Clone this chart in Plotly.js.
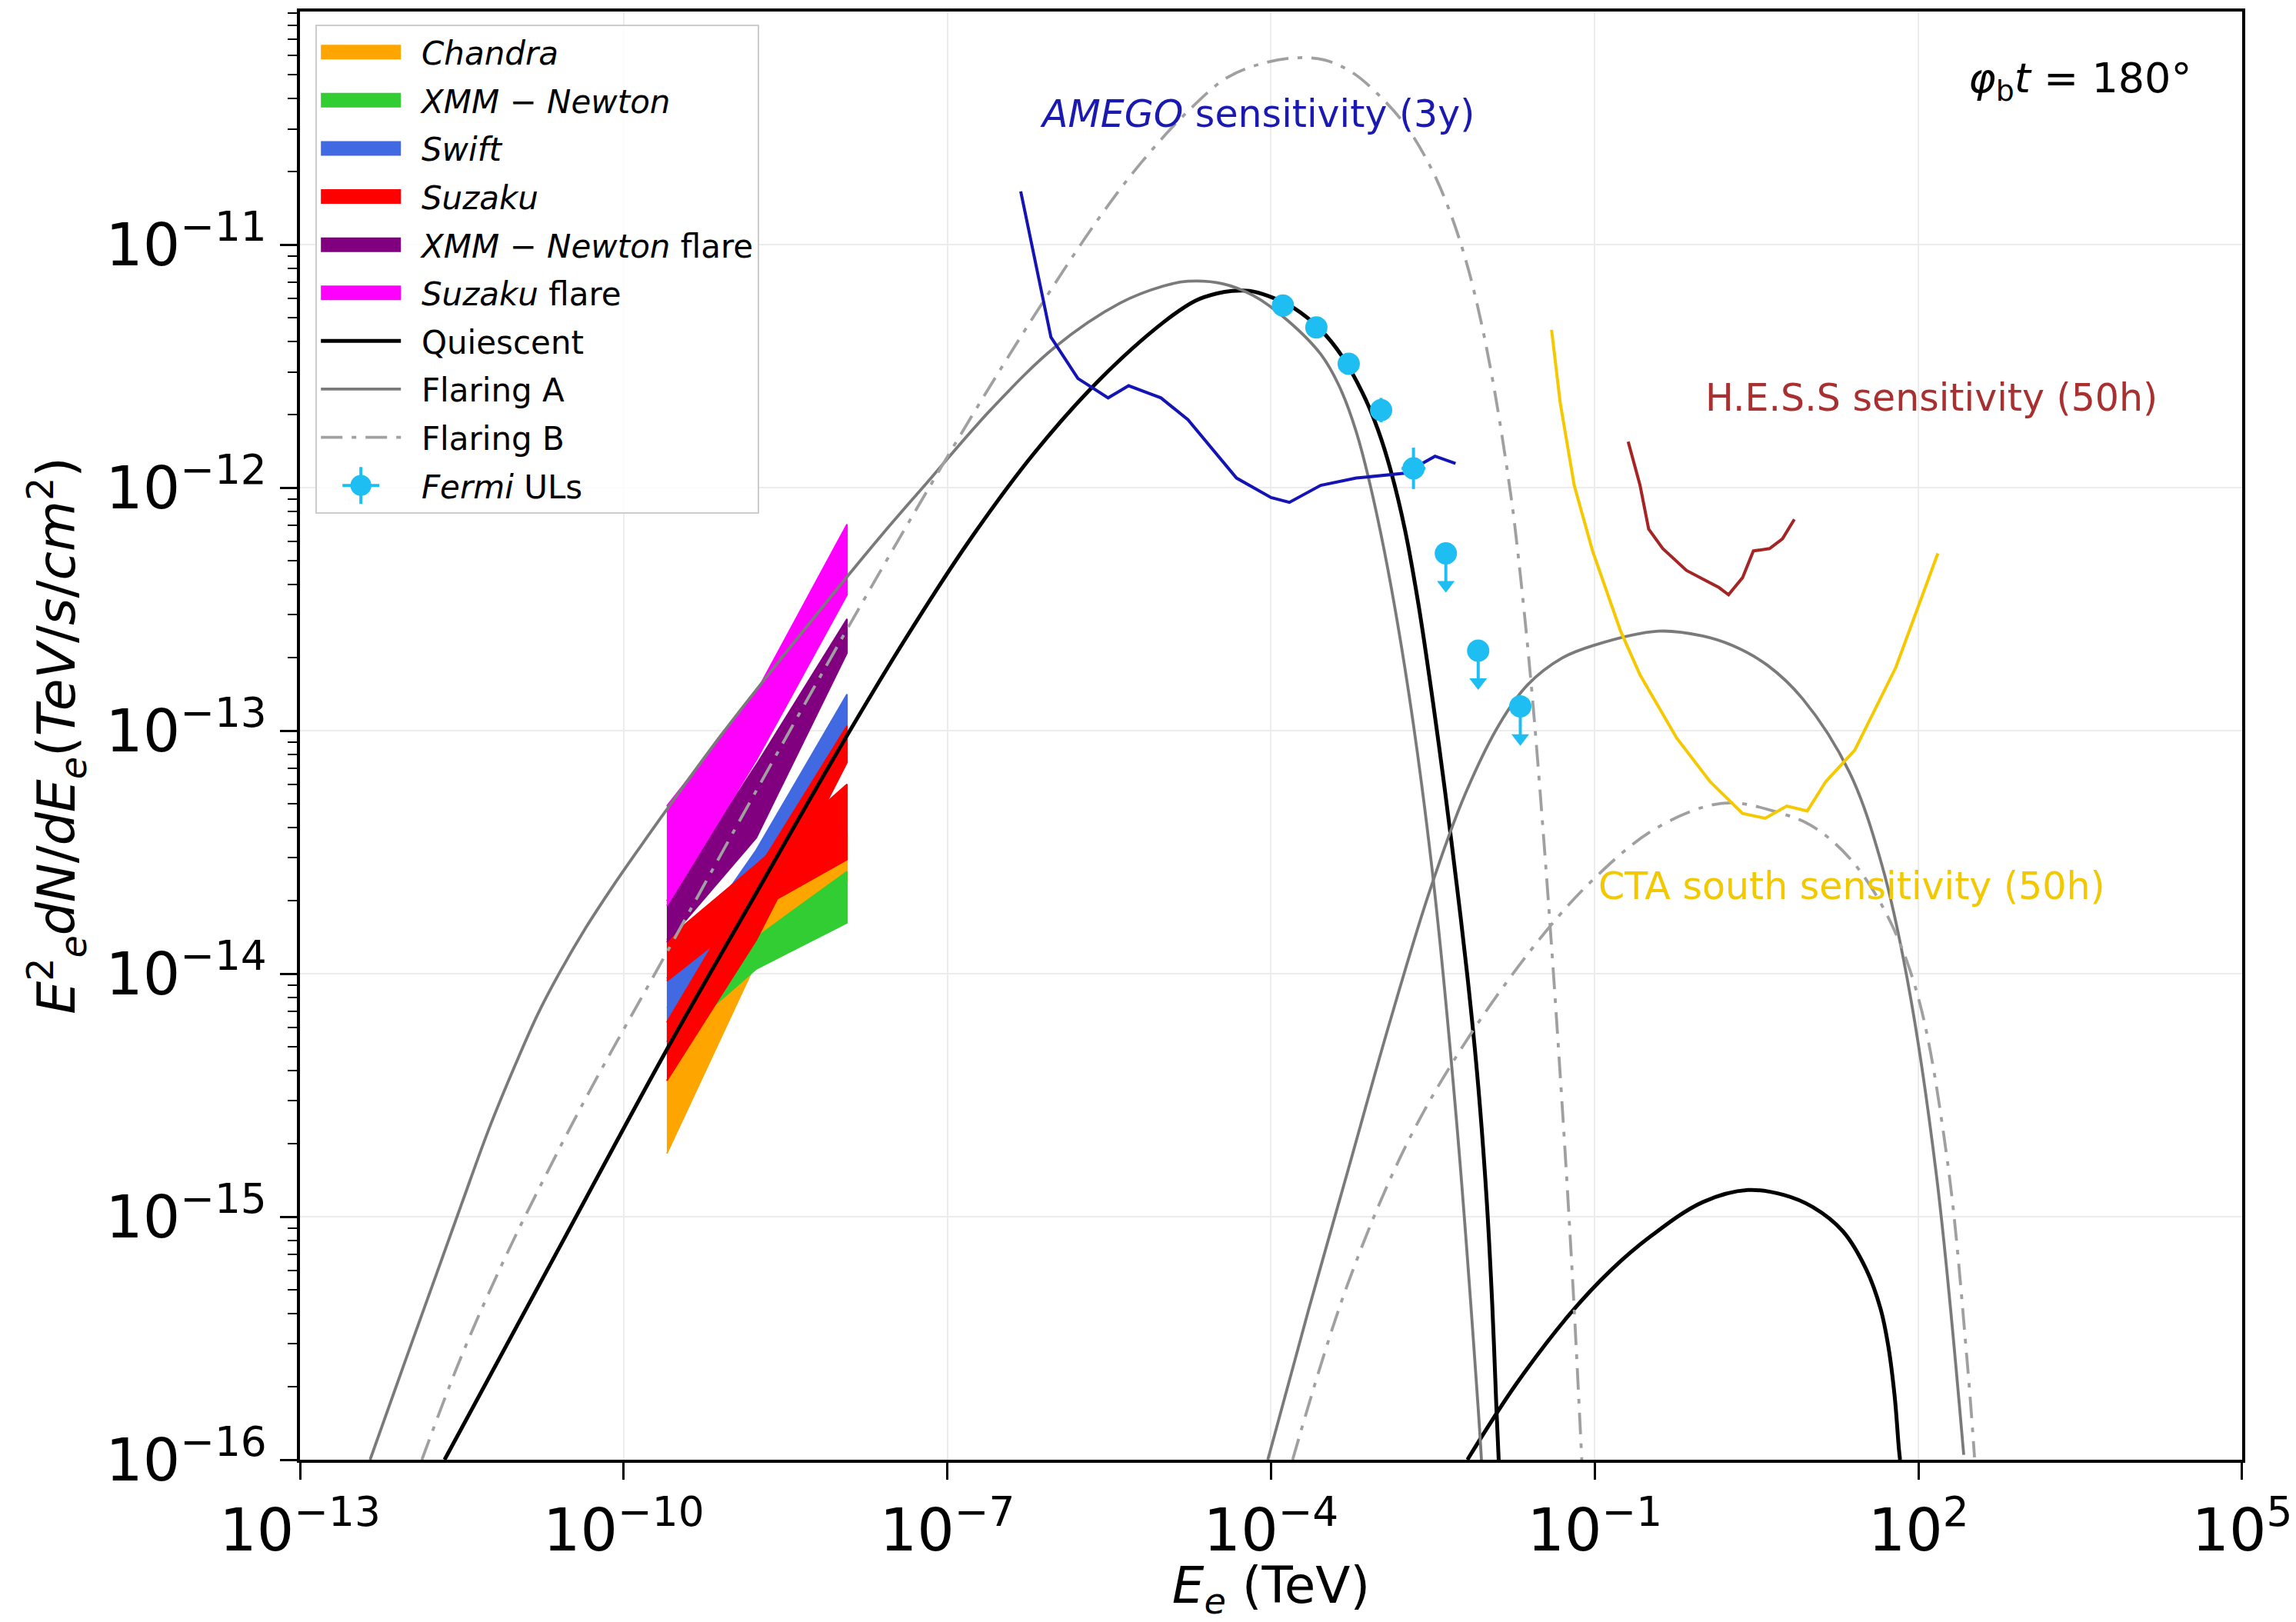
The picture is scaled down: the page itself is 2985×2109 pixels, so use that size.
<!DOCTYPE html>
<html>
<head>
<meta charset="utf-8">
<script src="https://cdn.plot.ly/plotly-3.0.1.min.js"></script>
<style>html,body{margin:0;padding:0;background:#fff;}#chart{width:2985px;height:2109px;}</style>
</head>
<body>
<div id="chart"></div>
<script>
// ---- data (log10 of E in TeV, log10 of E^2 dN/dE in TeV/s/cm^2) ----
const quiescentLowLogE  = [-11.66, -10.6, -9.61, -8.8, -8.01, -7.4, -6.8, -6.2, -5.6, -5.0, -4.7, -4.5, -4.36, -4.2, -4.03, -3.79, -3.54, -3.34, -3.13, -3.01, -2.89, -2.76, -2.63, -2.5, -2.39, -2.28, -2.18, -2.08, -2.0, -1.95, -1.91, -1.89];
const quiescentLowLogF  = [-16.0, -15.13, -14.32, -13.69, -13.08, -12.63, -12.22, -11.86, -11.56, -11.32, -11.23, -11.20, -11.19, -11.19, -11.21, -11.26, -11.35, -11.46, -11.63, -11.76, -11.93, -12.17, -12.49, -12.88, -13.24, -13.63, -14.01, -14.46, -14.94, -15.36, -15.80, -16.0];
const quiescentHighLogE = [-2.18, -1.73, -1.23, -0.85, -0.48, 0.0, 0.42, 0.75, 1.02, 1.3, 1.52, 1.65, 1.72, 1.78, 1.82, 1.83];
const quiescentHighLogF = [-16.0, -15.69, -15.40, -15.22, -15.08, -14.94, -14.89, -14.91, -14.96, -15.06, -15.22, -15.38, -15.53, -15.74, -15.96, -16.0];

const flaringALowLogE  = [-12.35, -12.05, -11.73, -11.5, -11.25, -11.0, -10.8, -10.6, -10.35, -10.1, -9.85, -9.61, -9.1, -8.5, -8.01, -7.6, -7.23, -6.6, -6.0, -5.4, -5.0, -4.77, -4.45, -4.16, -3.85, -3.54, -3.37, -3.21, -3.01, -2.76, -2.51, -2.28, -2.08, -2.05];
const flaringALowLogF  = [-16.0, -15.625, -15.23, -14.945, -14.64, -14.37, -14.17, -14.0, -13.81, -13.64, -13.48, -13.33, -13.02, -12.68, -12.41, -12.19, -12.0, -11.68, -11.42, -11.24, -11.17, -11.15, -11.16, -11.21, -11.31, -11.45, -11.58, -11.77, -12.13, -12.74, -13.56, -14.61, -15.79, -16.0];
const flaringAHighLogE = [-4.03, -3.65, -3.3, -2.9, -2.53, -2.2, -1.88, -1.62, -1.3, -1.02, -0.41, 0.0, 0.28, 0.6, 0.93, 1.36, 1.66, 1.9, 2.17, 2.42];
const flaringAHighLogF = [-16.0, -15.38, -14.83, -14.20, -13.66, -13.26, -12.97, -12.81, -12.70, -12.65, -12.59, -12.61, -12.65, -12.73, -12.87, -13.17, -13.55, -14.03, -14.84, -15.98];

const flaringBLowLogE  = [-11.87, -11.5, -11.09, -10.7, -10.3, -9.61, -8.8, -8.01, -7.23, -6.61, -6.1, -5.59, -5.2, -4.77, -4.4, -4.05, -3.75, -3.5, -3.25, -3.01, -2.75, -2.52, -2.35, -2.19, -2.05, -1.92, -1.8, -1.74, -1.6, -1.45, -1.3, -1.2, -1.12];
const flaringBLowLogF  = [-16.0, -15.57, -15.16, -14.81, -14.47, -13.92, -13.27, -12.645, -12.045, -11.586, -11.226, -10.887, -10.66, -10.45, -10.31, -10.25, -10.23, -10.24, -10.29, -10.38, -10.51, -10.681, -10.855, -11.071, -11.323, -11.622, -11.961, -12.159, -12.754, -13.579, -14.554, -15.3, -16.0];
const flaringBHighLogE = [-3.8, -3.3, -2.73, -2.13, -1.45, -1.0, -0.5, 0.0, 0.3, 0.72, 1.0, 1.36, 1.71, 2.0, 2.27, 2.45, 2.52];
const flaringBHighLogF = [-16.0, -15.29, -14.69, -14.235, -13.824, -13.606, -13.42, -13.315, -13.297, -13.339, -13.388, -13.523, -13.759, -14.10, -14.775, -15.585, -15.99];

const amegoLogE = [-6.32, -6.04, -5.79, -5.51, -5.32, -5.02, -4.77, -4.32, -4.00, -3.83, -3.54, -3.21, -2.76, -2.48, -2.29];
const amegoLogF = [-10.78, -11.38, -11.55, -11.63, -11.58, -11.63, -11.72, -11.96, -12.04, -12.06, -11.99, -11.96, -11.94, -11.87, -11.90];

const hessLogE = [-0.69, -0.58, -0.50, -0.37, -0.15, 0.02, 0.15, 0.24, 0.37, 0.47, 0.62, 0.74, 0.85];
const hessLogF = [-11.81, -11.99, -12.17, -12.25, -12.34, -12.38, -12.41, -12.44, -12.37, -12.26, -12.25, -12.21, -12.13];

const ctaLogE = [-1.40, -1.32, -1.19, -1.02, -0.76, -0.58, -0.24, 0.07, 0.37, 0.58, 0.78, 0.97, 1.14, 1.41, 1.79, 2.18];
const ctaLogF = [-11.35, -11.65, -11.99, -12.26, -12.59, -12.77, -13.03, -13.21, -13.34, -13.36, -13.31, -13.33, -13.21, -13.08, -12.74, -12.27];

const fermiLogE    = [-3.89, -3.58, -3.28, -2.98, -2.68, -2.38, -2.08, -1.69];
const fermiLogF    = [-11.25, -11.34, -11.49, -11.68, -11.92, -12.27, -12.67, -12.90];
const fermiErrLogF = [0, 0, 0, 0.05, 0.085, 0, 0, 0];
const fermiErrLogE = [0, 0, 0, 0.05, 0.11, 0, 0, 0];
const fermiIsUL    = [0, 0, 0, 0, 0, 1, 1, 1];

// X-ray bowties: upper / lower bounds at three energies
const xrayLogE = [-9.6, -8.77, -7.93];
const chandraUp = [-14.44, -13.68, -13.42],  chandraLo = [-14.74, -13.95, -13.62];
const xmmUp     = [-14.14, -13.85, -13.58],  xmmLo     = [-14.30, -13.98, -13.79];
const swiftUp   = [-14.02, -13.49, -12.85],  swiftLo   = [-14.28, -13.80, -13.02];
const suzakuAUp = [-14.20, -13.58, -12.98],  suzakuALo = [-14.44, -13.86, -13.13];
const suzakuBUp = [-13.86, -13.55, -13.22],  suzakuBLo = [-14.03, -13.74, -13.53];
const xmmFlareUp = [-13.70, -13.14, -12.54], xmmFlareLo = [-13.87, -13.44, -12.68];
const suzakuFlareUp = [-13.31, -12.84, -12.15], suzakuFlareLo = [-13.72, -13.12, -12.44];

// ---- helpers ----
const pow10 = a => a.map(v => (v === null ? null : Math.pow(10, v)));
const joinGap = (a, b) => a.concat([null], b);
const NB = '\u00a0\u2009';

const traces = [];
const xray = [
  {name: '<i>Chandra</i>', color: '#ffa500', group: 'g1', bands: [[chandraUp, chandraLo]]},
  {name: '<i>XMM − Newton</i>', color: '#32cd32', group: 'g2', bands: [[xmmUp, xmmLo]]},
  {name: '<i>Swift</i>', color: '#4169e1', group: 'g3', bands: [[swiftUp, swiftLo]]},
  {name: '<i>Suzaku</i>', color: '#ff0000', group: 'g4', bands: [[suzakuAUp, suzakuALo], [suzakuBUp, suzakuBLo]]},
  {name: '<i>XMM − Newton</i> flare', color: '#800080', group: 'g5', bands: [[xmmFlareUp, xmmFlareLo]]},
  {name: '<i>Suzaku</i> flare', color: '#ff00ff', group: 'g6', bands: [[suzakuFlareUp, suzakuFlareLo]]}
];
xray.forEach(s => traces.push({
  type: 'scatter', mode: 'lines', x: [null], y: [null], name: NB + s.name,
  legendgroup: s.group, line: {color: s.color, width: 10}, hoverinfo: 'skip'
}));
xray.forEach(s => s.bands.forEach(([up, lo]) => traces.push({
  type: 'scatter', mode: 'lines',
  x: pow10(xrayLogE.concat(xrayLogE.slice().reverse())),
  y: pow10(up.concat(lo.slice().reverse())),
  fill: 'toself', fillcolor: s.color, line: {color: s.color, width: 2},
  legendgroup: s.group, showlegend: false, hoverinfo: 'skip'
})));

const curveLine = (color, width, dash) => ({color, width, dash: dash || 'solid', shape: 'spline', smoothing: 1, simplify: false});
traces.push({
  type: 'scatter', mode: 'lines', name: NB + 'Quiescent', legendgroup: 'g7',
  x: pow10(joinGap(quiescentLowLogE, quiescentHighLogE)),
  y: pow10(joinGap(quiescentLowLogF, quiescentHighLogF)),
  line: curveLine('#000000', 5), connectgaps: false
});
traces.push({
  type: 'scatter', mode: 'lines', name: NB + 'Flaring A', legendgroup: 'g8',
  x: pow10(joinGap(flaringALowLogE, flaringAHighLogE)),
  y: pow10(joinGap(flaringALowLogF, flaringAHighLogF)),
  line: curveLine('#7a7a7a', 3.8), connectgaps: false
});
traces.push({
  type: 'scatter', mode: 'lines', name: NB + 'Flaring B', legendgroup: 'g9',
  x: pow10(joinGap(flaringBLowLogE, flaringBHighLogE)),
  y: pow10(joinGap(flaringBLowLogF, flaringBHighLogF)),
  line: curveLine('#a0a0a0', 3.8, '28px,12px,6px,12px'), connectgaps: false
});

traces.push({
  type: 'scatter', mode: 'lines', x: pow10(amegoLogE), y: pow10(amegoLogF),
  line: {color: '#1414b4', width: 4, simplify: false}, showlegend: false, legendgroup: 'g11', hoverinfo: 'skip'
});
traces.push({
  type: 'scatter', mode: 'lines', x: pow10(hessLogE), y: pow10(hessLogF),
  line: {color: '#a52424', width: 4, simplify: false}, showlegend: false, legendgroup: 'g12', hoverinfo: 'skip'
});
traces.push({
  type: 'scatter', mode: 'lines', x: pow10(ctaLogE), y: pow10(ctaLogF),
  line: {color: '#f5c800', width: 4, simplify: false}, showlegend: false, legendgroup: 'g13', hoverinfo: 'skip'
});

// Fermi points with error bars / upper-limit arrows
const ulLen = 0.15;
const fermiX = pow10(fermiLogE), fermiY = pow10(fermiLogF);
const errUp = fermiY.map((y, i) => fermiIsUL[i] ? 0 : y * (Math.pow(10, fermiErrLogF[i]) - 1));
const errDn = fermiY.map((y, i) => fermiIsUL[i] ? y * (1 - Math.pow(10, -ulLen)) : y * (1 - Math.pow(10, -fermiErrLogF[i])));
const errXp = fermiX.map((x, i) => x * (Math.pow(10, fermiErrLogE[i]) - 1));
const errXm = fermiX.map((x, i) => x * (1 - Math.pow(10, -fermiErrLogE[i])));
const fermiColor = '#1ebef2';
traces.push({
  type: 'scatter', mode: 'markers', name: NB + '<i>Fermi</i> ULs', legendgroup: 'g10',
  x: fermiX, y: fermiY,
  marker: {symbol: 'circle', size: 29, color: fermiColor},
  error_y: {type: 'data', symmetric: false, array: errUp, arrayminus: errDn, color: fermiColor, thickness: 4, width: 0},
  error_x: {type: 'data', symmetric: false, array: errXp, arrayminus: errXm, color: fermiColor, thickness: 4, width: 0}
});
const ulIdx = fermiIsUL.map((u, i) => u ? i : -1).filter(i => i >= 0);
traces.push({
  type: 'scatter', mode: 'markers', showlegend: false, legendgroup: 'g10',
  x: ulIdx.map(i => fermiX[i]),
  y: ulIdx.map(i => fermiY[i] * Math.pow(10, -ulLen + 0.02)),
  marker: {symbol: 'triangle-down', size: 20, color: fermiColor}, hoverinfo: 'skip'
});

const layout = {
  width: 2985, height: 2109,
  margin: {l: 390, r: 70, t: 15, b: 211, pad: 0},
  paper_bgcolor: '#ffffff', plot_bgcolor: '#ffffff',
  font: {family: 'DejaVu Sans', color: '#000000'},
  showlegend: true,
  legend: {
    x: 0.008, y: 0.991, xanchor: 'left', yanchor: 'top',
    bgcolor: 'rgba(255,255,255,0.85)', bordercolor: '#cccccc', borderwidth: 2,
    font: {size: 42, family: 'DejaVu Sans'}, itemwidth: 104, tracegroupgap: 5, traceorder: 'grouped'
  },
  xaxis: {
    type: 'log', range: [-13, 5.0005], dtick: 3, tick0: -13, exponentformat: 'power', showexponent: 'all',
    ticks: 'outside', ticklen: 22, tickwidth: 3, tickcolor: '#000', ticklabelstandoff: 4,
    showline: true, mirror: true, linecolor: '#000', linewidth: 4,
    showgrid: true, gridcolor: '#ececec', gridwidth: 2, zeroline: false,
    tickfont: {size: 61}, automargin: false,
    title: {text: '<i>E</i><sub><i>e</i></sub> (TeV)', font: {size: 66}, standoff: 26}
  },
  yaxis: {
    type: 'log', range: [-16, -10.04], dtick: 1, exponentformat: 'power', showexponent: 'all',
    ticks: 'outside', ticklen: 22, tickwidth: 3, tickcolor: '#000', ticklabelstandoff: 5,
    minor: {ticks: 'outside', ticklen: 12, tickwidth: 2, tickcolor: '#000', dtick: 'D1', showgrid: false},
    showline: true, mirror: true, linecolor: '#000', linewidth: 4,
    showgrid: true, gridcolor: '#ececec', gridwidth: 2, zeroline: false,
    tickfont: {size: 61}, automargin: false,
    title: {text: '<i>E</i><sup>2</sup><sub><i>e</i></sub><i>dN</i>/<i>dE</i><sub><i>e</i></sub>(<i>TeV</i>/<i>s</i>/<i>cm</i><sup>2</sup>)', font: {size: 68}, standoff: 18}
  },
  annotations: [
    {xref: 'paper', yref: 'paper', x: 0.493, y: 0.929, xanchor: 'center', yanchor: 'middle', text: '<i>AMEGO</i> sensitivity (3y)', showarrow: false, font: {size: 49, color: '#1a1ab0'}},
    {xref: 'paper', yref: 'paper', x: 0.840, y: 0.733, xanchor: 'center', yanchor: 'middle', text: 'H.E.S.S sensitivity (50h)', showarrow: false, font: {size: 49, color: '#a83030'}},
    {xref: 'paper', yref: 'paper', x: 0.799, y: 0.396, xanchor: 'center', yanchor: 'middle', text: 'CTA south sensitivity (50h)', showarrow: false, font: {size: 49, color: '#f2c800'}},
    {xref: 'paper', yref: 'paper', x: 0.9165, y: 0.952, xanchor: 'center', yanchor: 'middle', text: '<i>φ</i><sub>b</sub><i>t</i> = 180°', showarrow: false, font: {size: 54, color: '#000'}}
  ]
};

Plotly.newPlot('chart', traces, layout, {staticPlot: true, displayModeBar: false}).then(gd => {
  const items = gd.querySelectorAll('.legend .traces');
  items.forEach((g, i) => {
    if (i < 6) {
      g.querySelectorAll('.legendlines path').forEach(p => { p.style.strokeWidth = '19px'; });
    }
    if (i === 9) {
      const p = g.querySelector('.legendpoints path');
      if (p) {
        const t = p.getAttribute('transform') || '';
        const cross = document.createElementNS('http://www.w3.org/2000/svg', 'path');
        cross.setAttribute('d', 'M-24,0H24M0,-24V24');
        if (t) cross.setAttribute('transform', t);
        cross.setAttribute('style', 'stroke:' + fermiColor + ';stroke-width:4px;fill:none;');
        p.parentNode.insertBefore(cross, p);
        p.setAttribute('transform', t + ' scale(1.7)');
      }
    }
  });
});
</script>
</body>
</html>
